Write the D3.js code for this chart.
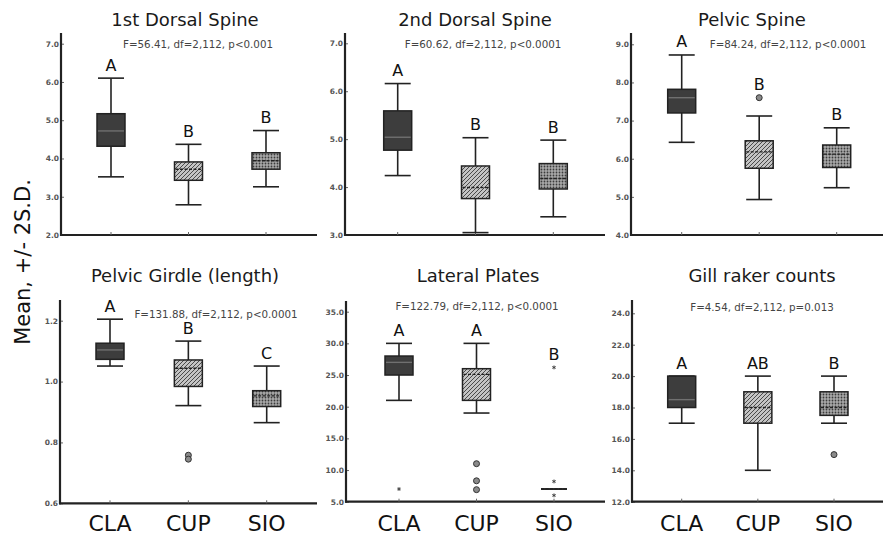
<!DOCTYPE html>
<html>
<head>
<meta charset="utf-8">
<script src="https://cdn.jsdelivr.net/npm/d3@7"></script>
<style>
  html, body { margin: 0; padding: 0; background: #fff; }
  svg { display: block; font-family: "DejaVu Sans", sans-serif; }
</style>
</head>
<body>
<svg id="chart" width="883" height="537"></svg>
<script>
// Populations compared in every panel
const groups = ["CLA", "CUP", "SIO"];

// Panel titles and ANOVA summaries
const traits = ["1st Dorsal Spine", "2nd Dorsal Spine", "Pelvic Spine",
                "Pelvic Girdle (length)", "Lateral Plates", "Gill raker counts"];
const anova = ["F=56.41, df=2,112, p<0.001", "F=60.62, df=2,112, p<0.0001",
               "F=84.24, df=2,112, p<0.0001", "F=131.88, df=2,112, p<0.0001",
               "F=122.79, df=2,112, p<0.0001", "F=4.54, df=2,112, p=0.013"];

// y-axis domains and tick values
const yDomains = [[2, 7], [3, 7], [4, 9], [0.6, 1.2], [5, 35], [12, 24]];
const yTicks = [[2, 3, 4, 5, 6, 7], [3, 4, 5, 6, 7], [4, 5, 6, 7, 8, 9],
                [0.6, 0.8, 1.0, 1.2], [5, 10, 15, 20, 25, 30, 35],
                [12, 14, 16, 18, 20, 22, 24]];

// Box summaries per group: [lower whisker, Q1, median, Q3, upper whisker]
const dorsal1 = [[3.52, 4.32, 4.72, 5.17, 6.10], [2.79, 3.43, 3.72, 3.91, 4.37], [3.26, 3.72, 3.94, 4.15, 4.73]];
const dorsal2 = [[4.24, 4.77, 5.04, 5.59, 6.16], [3.05, 3.76, 3.99, 4.44, 5.03], [3.38, 3.96, 4.18, 4.49, 4.98]];
const pelvicSpine = [[6.43, 7.20, 7.60, 7.82, 8.72], [4.93, 5.75, 6.18, 6.47, 7.12], [5.24, 5.77, 6.12, 6.36, 6.81]];
const pelvicGirdle = [[1.051, 1.073, 1.104, 1.126, 1.205], [0.921, 0.984, 1.044, 1.071, 1.133], [0.865, 0.918, 0.953, 0.970, 1.051]];
const plates = [[21, 25, 27, 28, 30], [19, 21, 25.1, 26, 30], [7, 7, 7, 7, 7]];
const gillRakers = [[17, 18, 18.5, 20, 20], [14, 17, 18, 19, 20], [17, 17.5, 18, 19, 20]];
const boxData = [dorsal1, dorsal2, pelvicSpine, pelvicGirdle, plates, gillRakers];

// Outlying observations: [group index, value, symbol]
const outDorsal1 = [];
const outDorsal2 = [];
const outPelvicSpine = [[1, 7.60, "o"]];
const outPelvicGirdle = [[1, 0.758, "o"], [1, 0.745, "o"]];
const outPlates = [[0, 7.0, "*"], [1, 11, "o"], [1, 8.3, "o"], [1, 6.9, "o"],
                   [2, 26.2, "*"], [2, 8.2, "*"], [2, 6.0, "*"]];
const outGillRakers = [[2, 15, "o"]];
const outlierData = [outDorsal1, outDorsal2, outPelvicSpine, outPelvicGirdle, outPlates, outGillRakers];

// Multiple-comparison letters
const letters = [["A", "B", "B"], ["A", "B", "B"], ["A", "B", "B"],
                 ["A", "B", "C"], ["A", "A", "B"], ["A", "AB", "B"]];

// Panel frames (axis origin, extent and text anchors)
const frames = [
  { x: 61,  right: 317, top: 33,  bottom: 235,   yTop: 43.7,  c0: 111,   c1: 266,   titleX: 185, titleY: 26,  statX: 198, statY: 48 },
  { x: 345, right: 605, top: 33,  bottom: 235,   yTop: 43.3,  c0: 397.7, c1: 553.3, titleX: 475, titleY: 26,  statX: 483, statY: 48 },
  { x: 631, right: 883, top: 33,  bottom: 235,   yTop: 44.3,  c0: 681.7, c1: 836.7, titleX: 752, titleY: 26,  statX: 788, statY: 48 },
  { x: 60,  right: 317, top: 300, bottom: 503.3, yTop: 320.7, c0: 110,   c1: 266.7, titleX: 185, titleY: 282, statX: 216, statY: 318 },
  { x: 346, right: 605, top: 301, bottom: 501.7, yTop: 311.7, c0: 399,   c1: 554,   titleX: 478, titleY: 282, statX: 477, statY: 310 },
  { x: 632, right: 883, top: 300, bottom: 501.7, yTop: 313.3, c0: 681.7, c1: 834,   titleX: 762, titleY: 282, statX: 762, statY: 311 }
];
const tickFormats = [".1f", ".1f", ".1f", ".1f", ".1f", ".1f"];

const svg = d3.select("#chart");
const defs = svg.append("defs");

// Diagonal hatch for CUP
const hatch = defs.append("pattern").attr("id", "hatch")
  .attr("patternUnits", "userSpaceOnUse").attr("width", 4).attr("height", 4);
hatch.append("rect").attr("width", 4).attr("height", 4).attr("fill", "#c4c4c4");
hatch.append("path").attr("d", "M-1,1 l2,-2 M0,4 l4,-4 M3,5 l2,-2")
  .attr("stroke", "#4a4a4a").attr("stroke-width", 1);

// Dotted cross pattern for SIO
const dots = defs.append("pattern").attr("id", "dots")
  .attr("patternUnits", "userSpaceOnUse").attr("width", 3).attr("height", 3);
dots.append("rect").attr("width", 3).attr("height", 3).attr("fill", "#a8a8a8");
dots.append("circle").attr("cx", 1.5).attr("cy", 1.5).attr("r", 0.9).attr("fill", "#3c3c3c");

const fills = ["#3d3d3d", "url(#hatch)", "url(#dots)"];
const medianStyle = [
  { stroke: "#707070", dash: null },
  { stroke: "#222", dash: "3,1.5" },
  { stroke: "#222", dash: "3,1.5" }
];

const ink = "#222";
const boxW = 28;
const capW = 26;

traits.forEach((title, i) => {
  const f = frames[i];
  const g = svg.append("g");
  const y = d3.scaleLinear().domain(yDomains[i]).range([f.bottom, f.yTop]);
  const x = d3.scalePoint().domain(groups).range([f.c0, f.c1]);

  // Title and test statistic
  g.append("text").attr("x", f.titleX).attr("y", f.titleY)
    .attr("text-anchor", "middle").attr("font-size", 18).attr("fill", "#1a1a1a")
    .text(title);
  g.append("text").attr("x", f.statX).attr("y", f.statY)
    .attr("text-anchor", "middle").attr("font-size", 10.3).attr("fill", "#444")
    .text(anova[i]);

  // y axis
  const yAxis = d3.axisLeft(y).tickValues(yTicks[i]).tickFormat(d3.format(tickFormats[i]))
    .tickSize(-3).tickPadding(2);
  const ya = g.append("g").attr("transform", `translate(${f.x},0)`).call(yAxis);
  ya.select(".domain").remove();
  ya.selectAll(".tick line").attr("stroke", "#666").attr("stroke-width", 1);
  ya.selectAll(".tick text").attr("font-size", 7.5).attr("fill", "#555")
    .attr("font-family", "DejaVu Sans, sans-serif").attr("font-weight", "bold");
  g.append("line").attr("x1", f.x).attr("x2", f.x).attr("y1", f.top).attr("y2", f.bottom + 1)
    .attr("stroke", ink).attr("stroke-width", 2.2);

  // x axis
  g.append("line").attr("x1", f.x - 1).attr("x2", f.right).attr("y1", f.bottom).attr("y2", f.bottom)
    .attr("stroke", ink).attr("stroke-width", 2.2);
  g.selectAll(".xtick").data(groups).join("line")
    .attr("x1", d => x(d)).attr("x2", d => x(d))
    .attr("y1", f.bottom - 3).attr("y2", f.bottom)
    .attr("stroke", "#666").attr("stroke-width", 1);
  if (i >= 3) {
    g.selectAll(".xlab").data(groups).join("text")
      .attr("x", d => x(d)).attr("y", 531)
      .attr("text-anchor", "middle").attr("font-size", 22).attr("fill", "#111")
      .text(d => d);
  }

  // Boxes and whiskers
  boxData[i].forEach((s, k) => {
    const cx = x(groups[k]);
    const [lo, q1, med, q3, hi] = s;
    const wg = g.append("g");
    wg.append("line").attr("x1", cx).attr("x2", cx).attr("y1", y(hi)).attr("y2", y(lo))
      .attr("stroke", ink).attr("stroke-width", 1.6);
    [lo, hi].forEach(v => {
      wg.append("line").attr("x1", cx - capW / 2).attr("x2", cx + capW / 2)
        .attr("y1", y(v)).attr("y2", y(v))
        .attr("stroke", ink).attr("stroke-width", 1.6);
    });
    wg.append("rect").attr("x", cx - boxW / 2).attr("width", boxW)
      .attr("y", y(q3)).attr("height", Math.max(0, y(q1) - y(q3)))
      .attr("fill", fills[k]).attr("stroke", ink).attr("stroke-width", 1.5);
    const ms = medianStyle[k];
    wg.append("line").attr("x1", cx - boxW / 2 + 1).attr("x2", cx + boxW / 2 - 1)
      .attr("y1", y(med)).attr("y2", y(med))
      .attr("stroke", ms.stroke).attr("stroke-width", 1.4)
      .attr("stroke-dasharray", ms.dash);
  });

  // Outliers
  outlierData[i].forEach(([k, v, sym]) => {
    const cx = x(groups[k]);
    if (sym === "o") {
      g.append("circle").attr("cx", cx).attr("cy", y(v)).attr("r", 3)
        .attr("fill", "#8a8a8a").attr("stroke", "#333").attr("stroke-width", 1);
    } else {
      g.append("path").attr("transform", `translate(${cx},${y(v)})`)
        .attr("d", d3.symbol(d3.symbolAsterisk, 10)())
        .attr("fill", "none").attr("stroke", "#444").attr("stroke-width", 1);
    }
  });

  // Group letters above the highest point of each group
  groups.forEach((grp, k) => {
    const tops = [boxData[i][k][4]].concat(outlierData[i].filter(o => o[0] === k).map(o => o[1]));
    const top = d3.max(tops);
    g.append("text").attr("x", x(grp)).attr("y", y(top) - 7.5)
      .attr("text-anchor", "middle").attr("font-size", 16).attr("fill", "#111")
      .text(letters[i][k]);
  });
});

// Shared y-axis caption
svg.append("text")
  .attr("transform", "translate(30,262) rotate(-90)")
  .attr("text-anchor", "middle").attr("font-size", 21).attr("fill", "#111")
  .text("Mean, +/- 2S.D.");
</script>
</body>
</html>
